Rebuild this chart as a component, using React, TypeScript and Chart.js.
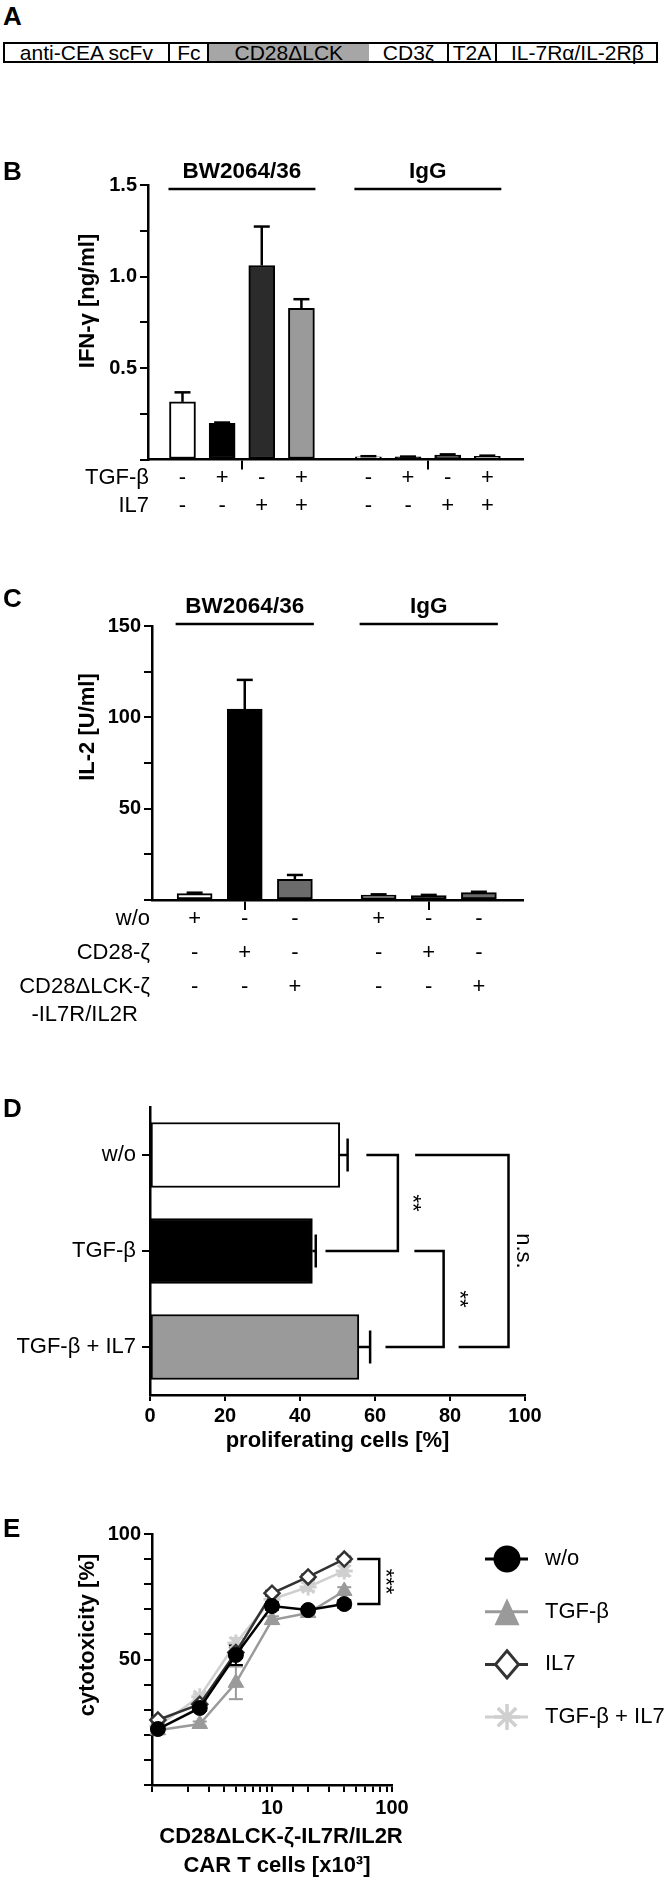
import React, { useEffect, useRef } from 'react';
import { Chart, registerables } from 'chart.js';

Chart.register(...registerables);

const FONT = '"Liberation Sans", Arial, Helvetica, sans-serif';
Chart.defaults.font.family = FONT;
Chart.defaults.color = '#000';

/* =================== DATA =================== */
// Panel A – CAR construct
const constructParts = ['anti-CEA scFv', 'Fc', 'CD28ΔLCK', 'CD3ζ', 'T2A', 'IL-7Rα/IL-2Rβ'];

// Panel B – IFN-γ [ng/ml]
const bGroups = ['BW2064/36', 'IgG'];
const bTGF = ['-', '+', '-', '+'];
const bIL7 = ['-', '-', '+', '+'];
const bBW = [0.315, 0.197, 1.06, 0.826];
const bBWErr = [0.052, 0.005, 0.213, 0.05];
const bIgG = [0.015, 0.014, 0.024, 0.018];
const bIgGErr = [0.003, 0.002, 0.004, 0.003];
const bYTicks = [0.5, 1.0, 1.5];

// Panel C – IL-2 [U/ml]
const cGroups = ['BW2064/36', 'IgG'];
const cRowNames = ['w/o', 'CD28-ζ', 'CD28ΔLCK-ζ\n-IL7R/IL2R'];
const cWo = ['+', '-', '-'];
const cCD28 = ['-', '+', '-'];
const cLCK = ['-', '-', '+'];
const cBW = [3.5, 104.5, 11.3];
const cBWErr = [0.5, 16, 2.4];
const cIgG = [2.7, 2.4, 4.0];
const cIgGErr = [0.4, 0.4, 0.5];
const cYTicks = [50, 100, 150];

// Panel D – proliferating cells [%]
const dLabels = ['w/o', 'TGF-β', 'TGF-β + IL7'];
const dProlif = [50.6, 43.3, 55.7];
const dProlifErr = [2.1, 0.9, 3.0];
const dXTicks = [0, 20, 40, 60, 80, 100];
const dPairs = [[0, 1], [1, 2], [0, 2]];
const dSigLabels = ['**', '**', 'n.s.'];

// Panel E – cytotoxicity [%]
const eCells = [1.12, 2.5, 5, 10, 20, 40];
const eNames = ['w/o', 'TGF-β', 'IL7', 'TGF-β + IL7'];
const eWo = [22.3, 30.7, 51.8, 71.3, 69.7, 72.1];
const eWoErr = [1.0, 1.2, 4.0, 1.5, 1.2, 1.5];
const eTGF = [21.8, 24.3, 40.7, 65.7, 68.5, 77.3];
const eTGFErr = [1.0, 1.0, 6.5, 1.5, 1.0, 1.5];
const eIL7 = [25.9, 32.2, 52.8, 76.4, 82.9, 90.0];
const eIL7Err = [1.0, 1.0, 2.0, 1.0, 1.0, 1.0];
const eTGFIL7 = [23.5, 35.2, 56.6, 74.0, 78.9, 85.3];
const eTGFIL7Err = [1.0, 1.0, 2.0, 1.5, 1.5, 2.0];
const eYTicks = [50, 100];
const eXTicks = [10, 100];
const eSigPair = [2, 0];
const eSigLabel = '***';

/* =================== LAYOUT / STYLE =================== */
const W = 664;
const AXIS_W = 2.5;
const TICK_FONT = { family: FONT, size: 20, weight: 'bold' as const };
const LABEL_SIZE = 22;
const TITLE_SIZE = 22;
const HEAD_SIZE = 22.5;
const YTITLE_X = 88;

type Area = { left: number; right: number; top: number; bottom: number };

function padFor(top: number, height: number, a: Area, xH: number) {
  return { left: 0, top: a.top - top, right: W - a.right, bottom: top + height - a.bottom - xH };
}

const common = {
  responsive: false,
  animation: false as const,
  events: [] as any[],
  plugins: { legend: { display: false }, tooltip: { enabled: false } },
};

function seg(ctx: CanvasRenderingContext2D, x1: number, y1: number, x2: number, y2: number, lw = AXIS_W, c = '#000') {
  ctx.save();
  ctx.strokeStyle = c;
  ctx.lineWidth = lw;
  ctx.lineCap = 'butt';
  ctx.beginPath();
  ctx.moveTo(x1, y1);
  ctx.lineTo(x2, y2);
  ctx.stroke();
  ctx.restore();
}

function poly(ctx: CanvasRenderingContext2D, pts: number[][], lw = AXIS_W, c = '#000') {
  ctx.save();
  ctx.strokeStyle = c;
  ctx.lineWidth = lw;
  ctx.lineJoin = 'miter';
  ctx.beginPath();
  pts.forEach(([x, y], i) => (i ? ctx.lineTo(x, y) : ctx.moveTo(x, y)));
  ctx.stroke();
  ctx.restore();
}

function txt(
  ctx: CanvasRenderingContext2D, s: string, x: number, y: number, size: number, bold = false,
  align: CanvasTextAlign = 'center', rot = 0, baseline: CanvasTextBaseline = 'middle',
) {
  ctx.save();
  ctx.translate(x, y);
  ctx.rotate(rot);
  ctx.font = `${bold ? 'bold ' : ''}${size}px ${FONT}`;
  ctx.fillStyle = '#000';
  ctx.textAlign = align;
  ctx.textBaseline = baseline;
  ctx.fillText(s, 0, 0);
  ctx.restore();
}

function errV(ctx: CanvasRenderingContext2D, cx: number, y0: number, y1: number, half: number, c = '#000', lw = AXIS_W) {
  seg(ctx, cx, y0, cx, y1, lw, c);
  seg(ctx, cx - half, y1, cx + half, y1, lw, c);
}

function yLinear(max: number, step: number, labeled: number[], width: number, fmt: (v: number) => string) {
  return {
    type: 'linear',
    min: 0,
    max,
    afterFit: (s: any) => { s.width = width; },
    ticks: {
      stepSize: step, autoSkip: false, padding: 3, color: '#000', font: TICK_FONT,
      callback: (v: any) => (labeled.some((t) => Math.abs(t - Number(v)) < 1e-6) ? fmt(Number(v)) : ''),
    },
    grid: { drawOnChartArea: false, color: '#000', lineWidth: 2, tickLength: 8 },
    border: { color: '#000', width: AXIS_W },
  };
}

function xGroups(min: number, max: number, centers: number[], height: number) {
  return {
    type: 'linear',
    min,
    max,
    offset: false,
    afterFit: (s: any) => { s.height = height; },
    afterBuildTicks: (s: any) => { s.ticks = centers.map((v) => ({ value: v })); },
    ticks: { autoSkip: false, callback: () => '' },
    grid: { drawOnChartArea: false, offset: false, color: '#000', lineWidth: 2, tickLength: 10 },
    border: { color: '#000', width: AXIS_W },
  };
}

function groupPositions(n: number, groups: number, gap: number) {
  const out: number[][] = [];
  for (let g = 0; g < groups; g++) out.push(Array.from({ length: n }, (_, i) => 1 + g * (n + gap) + i));
  return out;
}

/* ---------- Panel A ---------- */
const A_BOUNDS = [3.4, 169.4, 208.3, 369.3, 447.6, 496.3, 658.5];
const A_TOP = 41.5;
const A_H = 21;
const A_FILLS = ['#fff', '#fff', '#a6a6a6', '#fff', '#fff', '#fff'];
const A_DIVIDERS = [1, 2, 4, 5];

function PanelA() {
  return (
    <>
      <div style={{ position: 'absolute', left: 3, top: 1, font: `bold 26px ${FONT}`, lineHeight: '30px' }}>A</div>
      {constructParts.map((p, i) => (
        <div
          key={i}
          style={{
            position: 'absolute', left: A_BOUNDS[i], top: A_TOP, width: A_BOUNDS[i + 1] - A_BOUNDS[i], height: A_H,
            background: A_FILLS[i], display: 'flex', alignItems: 'center', justifyContent: 'center',
            fontSize: 21, lineHeight: '1', whiteSpace: 'nowrap',
          }}
        >
          {p}
        </div>
      ))}
      <div
        style={{
          position: 'absolute', left: A_BOUNDS[0], top: A_TOP, width: A_BOUNDS[6] - A_BOUNDS[0], height: A_H,
          border: '2px solid #000', boxSizing: 'border-box',
        }}
      />
      {A_DIVIDERS.map((k) => (
        <div key={k} style={{ position: 'absolute', left: A_BOUNDS[k] - 1, top: A_TOP, width: 2, height: A_H, background: '#000' }} />
      ))}
    </>
  );
}

/* ---------- Panel B ---------- */
const B_TOP = 130;
const B_H = 410;
const B_AREA = { left: 148, right: 523, top: 185, bottom: 459.5 };
const B_GAP = 0.69;
const B_XMIN = 0.13;
const B_XMAX = 9.59;
const B_BAR = 26;
const B_FILLS = ['#ffffff', '#000000', '#2b2b2b', '#9a9a9a'];

function makeB() {
  const pos = groupPositions(bBW.length, bGroups.length, B_GAP);
  const flat = pos.flat();
  const vals = [...bBW, ...bIgG];
  const errs = [...bBWErr, ...bIgGErr];
  const centers = pos.map((p) => (p[0] + p[p.length - 1]) / 2);
  const plugin = {
    id: 'bExtras',
    afterDatasetsDraw(chart: any) {
      const { ctx, chartArea: ca, scales: { x, y } } = chart;
      vals.forEach((v, i) => errV(ctx, x.getPixelForValue(flat[i]), y.getPixelForValue(v), y.getPixelForValue(v + errs[i]), 8));
      pos.forEach((p, g) => {
        const xa = x.getPixelForValue(p[0]) - B_BAR / 2 - 1;
        const xb = x.getPixelForValue(p[p.length - 1]) + B_BAR / 2 + 1;
        seg(ctx, xa, ca.top + 4, xb, ca.top + 4);
        txt(ctx, bGroups[g], (xa + xb) / 2, ca.top - 13, HEAD_SIZE, true);
      });
      const rows: [string, string[]][] = [['TGF-β', bTGF], ['IL7', bIL7]];
      rows.forEach(([name, signs], r) => {
        const yy = ca.bottom + 18.5 + r * 28;
        txt(ctx, name, ca.left + 1, yy, LABEL_SIZE, false, 'right');
        pos.forEach((p) => p.forEach((px, i) => txt(ctx, signs[i], x.getPixelForValue(px), yy, LABEL_SIZE)));
      });
      txt(ctx, 'B', 3, 180 - B_TOP, 26, true, 'left', 0, 'alphabetic');
      txt(ctx, 'IFN-γ [ng/ml]', YTITLE_X, 301 - B_TOP, TITLE_SIZE, true, 'center', -Math.PI / 2);
    },
  };
  return {
    type: 'bar',
    data: {
      datasets: [{
        data: flat.map((px, i) => ({ x: px, y: vals[i] })),
        backgroundColor: flat.map((_, i) => B_FILLS[i % B_FILLS.length]),
        borderColor: '#000', borderWidth: 2, borderSkipped: false, barThickness: B_BAR,
      }],
    },
    options: {
      ...common,
      layout: { padding: padFor(B_TOP, B_H, B_AREA, 14) },
      scales: {
        x: xGroups(B_XMIN, B_XMAX, centers, 14),
        y: yLinear(1.5, 0.25, bYTicks, B_AREA.left, (v) => v.toFixed(1)),
      },
    },
    plugins: [plugin],
  };
}

/* ---------- Panel C ---------- */
const C_TOP = 570;
const C_H = 460;
const C_AREA = { left: 152, right: 523, top: 626, bottom: 900 };
const C_GAP = 0.67;
const C_XMIN = 0.15;
const C_XMAX = 7.55;
const C_BAR = 35;
const C_FILLS = ['#ffffff', '#000000', '#6b6b6b'];
const C_ROW_Y = [19, 53, 87];

function makeC() {
  const pos = groupPositions(cBW.length, cGroups.length, C_GAP);
  const flat = pos.flat();
  const vals = [...cBW, ...cIgG];
  const errs = [...cBWErr, ...cIgGErr];
  const centers = pos.map((p) => (p[0] + p[p.length - 1]) / 2);
  const rowSigns = [cWo, cCD28, cLCK];
  const plugin = {
    id: 'cExtras',
    afterDatasetsDraw(chart: any) {
      const { ctx, chartArea: ca, scales: { x, y } } = chart;
      vals.forEach((v, i) => errV(ctx, x.getPixelForValue(flat[i]), y.getPixelForValue(v), y.getPixelForValue(v + errs[i]), 8));
      pos.forEach((p, g) => {
        const xa = x.getPixelForValue(p[0]) - C_BAR / 2 - 1.5;
        const xb = x.getPixelForValue(p[p.length - 1]) + C_BAR / 2 + 1.5;
        seg(ctx, xa, ca.top - 2, xb, ca.top - 2);
        txt(ctx, cGroups[g], (xa + xb) / 2, ca.top - 19, HEAD_SIZE, true);
      });
      rowSigns.forEach((signs, r) => {
        const yy = ca.bottom + C_ROW_Y[r];
        const lines = cRowNames[r].split('\n');
        const right = ca.left - 2;
        txt(ctx, lines[0], right, yy, LABEL_SIZE, false, 'right');
        if (lines.length > 1) {
          ctx.save();
          ctx.font = `${LABEL_SIZE}px ${FONT}`;
          const w0 = ctx.measureText(lines[0]).width;
          ctx.restore();
          txt(ctx, lines[1], right - w0 / 2, yy + 28, LABEL_SIZE, false, 'center');
        }
        pos.forEach((p) => p.forEach((px, i) => txt(ctx, signs[i], x.getPixelForValue(px), yy, LABEL_SIZE)));
      });
      txt(ctx, 'C', 3, 607 - C_TOP, 26, true, 'left', 0, 'alphabetic');
      txt(ctx, 'IL-2 [U/ml]', YTITLE_X, 727 - C_TOP, TITLE_SIZE, true, 'center', -Math.PI / 2);
    },
  };
  return {
    type: 'bar',
    data: {
      datasets: [{
        data: flat.map((px, i) => ({ x: px, y: vals[i] })),
        backgroundColor: flat.map((_, i) => C_FILLS[i % C_FILLS.length]),
        borderColor: '#000', borderWidth: 2, borderSkipped: false, barThickness: C_BAR,
      }],
    },
    options: {
      ...common,
      layout: { padding: padFor(C_TOP, C_H, C_AREA, 14) },
      scales: {
        x: xGroups(C_XMIN, C_XMAX, centers, 14),
        y: yLinear(150, 25, cYTicks, C_AREA.left, (v) => String(v)),
      },
    },
    plugins: [plugin],
  };
}

/* ---------- Panel D ---------- */
const D_TOP = 1080;
const D_H = 380;
const D_AREA = { left: 150, right: 525, top: 1107, bottom: 1395 };
const D_BAR = 65;
const D_FILLS = ['#ffffff', '#000000', '#9a9a9a'];
// bracket geometry in x-axis units: start of upper arm, spine, start of lower arm, label position
const D_BRACKETS = [
  { start: 57.7, spine: 66.1, end: 46.8, label: 69.8 },
  { start: 70.5, spine: 78.3, end: 62.8, label: 82.3 },
  { start: 70.7, spine: 95.6, end: 82.3, label: 99.6 },
];

function makeD() {
  const plugin = {
    id: 'dExtras',
    afterDatasetsDraw(chart: any) {
      const { ctx, chartArea: ca, scales: { x, y } } = chart;
      dProlif.forEach((v, i) => {
        const cy = y.getPixelForValue(i);
        const x0 = x.getPixelForValue(v);
        const x1 = x.getPixelForValue(v + dProlifErr[i]);
        seg(ctx, x0, cy, x1, cy);
        seg(ctx, x1, cy - 16.5, x1, cy + 16.5);
      });
      dPairs.forEach(([i, j], k) => {
        const b = D_BRACKETS[k];
        const ya = y.getPixelForValue(i);
        const yb = y.getPixelForValue(j);
        const xs = x.getPixelForValue(b.spine);
        poly(ctx, [[x.getPixelForValue(b.start), ya], [xs, ya], [xs, yb], [x.getPixelForValue(b.end), yb]]);
        txt(ctx, dSigLabels[k], x.getPixelForValue(b.label), (ya + yb) / 2, LABEL_SIZE, false, 'center', Math.PI / 2);
      });
      txt(ctx, 'proliferating cells [%]', (ca.left + ca.right) / 2, 1441 - D_TOP, TITLE_SIZE, true);
      txt(ctx, 'D', 3, 1117 - D_TOP, 26, true, 'left', 0, 'alphabetic');
    },
  };
  return {
    type: 'bar',
    data: {
      labels: dLabels,
      datasets: [{
        data: dProlif, backgroundColor: D_FILLS, borderColor: '#000', borderWidth: 2,
        borderSkipped: false, barThickness: D_BAR,
      }],
    },
    options: {
      ...common,
      indexAxis: 'y',
      layout: { padding: padFor(D_TOP, D_H, D_AREA, 65) },
      scales: {
        x: {
          type: 'linear', min: 0, max: 100,
          afterFit: (s: any) => { s.height = 65; },
          ticks: {
            stepSize: 20, autoSkip: false, maxRotation: 0, padding: 3, font: TICK_FONT, color: '#000',
            callback: (v: any) => (dXTicks.includes(Number(v)) ? String(v) : ''),
          },
          grid: { drawOnChartArea: false, color: '#000', lineWidth: 2, tickLength: 6 },
          border: { color: '#000', width: AXIS_W },
        },
        y: {
          type: 'category',
          afterFit: (s: any) => { s.width = D_AREA.left; },
          ticks: { padding: 6, font: { family: FONT, size: LABEL_SIZE }, color: '#000' },
          grid: { drawOnChartArea: false, offset: false, color: '#000', lineWidth: 2, tickLength: 8 },
          border: { color: '#000', width: AXIS_W },
        },
      },
    },
    plugins: [plugin],
  };
}

/* ---------- Panel E ---------- */
const E_TOP = 1490;
const E_H = 389;
const E_AREA = { left: 152, right: 392, top: 1534, bottom: 1785 };
const E_STYLES = [
  { color: '#000000', fill: '#000000', point: 'circle', r: 7.5, bw: 1, order: 0, legend: 'circle', lr: 13.5 },
  { color: '#9a9a9a', fill: '#9a9a9a', point: 'triangle', r: 9, bw: 1, order: 2, legend: 'triangle', lr: 12.5 },
  { color: '#333333', fill: '#ffffff', point: 'rectRot', r: 7.5, bw: 2.5, order: 1, legend: 'diamond', lr: 11.5 },
  { color: '#cfcfcf', fill: '#cfcfcf', point: 'star', r: 8.5, bw: 3, order: 3, legend: 'star', lr: 13 },
];
const E_LEGEND = { lineX0: 485, lineX1: 528, markX: 507, textX: 545, y0: 1559, dy: 52.7 };

function legendMarker(ctx: CanvasRenderingContext2D, kind: string, x: number, y: number, r: number, color: string, fill: string) {
  ctx.save();
  ctx.fillStyle = fill;
  ctx.strokeStyle = color;
  ctx.beginPath();
  if (kind === 'circle') {
    ctx.arc(x, y, r, 0, Math.PI * 2);
    ctx.fill();
  } else if (kind === 'triangle') {
    ctx.moveTo(x, y - r * 1.08);
    ctx.lineTo(x + r, y + r * 1.08);
    ctx.lineTo(x - r, y + r * 1.08);
    ctx.closePath();
    ctx.fill();
  } else if (kind === 'diamond') {
    ctx.lineWidth = 3;
    ctx.moveTo(x, y - r * 1.18);
    ctx.lineTo(x + r, y);
    ctx.lineTo(x, y + r * 1.18);
    ctx.lineTo(x - r, y);
    ctx.closePath();
    ctx.fill();
    ctx.stroke();
  } else {
    ctx.lineWidth = 3.5;
    for (let k = 0; k < 4; k++) {
      const a = (k * Math.PI) / 4 + Math.PI / 2;
      ctx.moveTo(x + Math.cos(a) * r, y + Math.sin(a) * r);
      ctx.lineTo(x - Math.cos(a) * r, y - Math.sin(a) * r);
    }
    ctx.stroke();
  }
  ctx.restore();
}

function makeE() {
  const series = [eWo, eTGF, eIL7, eTGFIL7];
  const errs = [eWoErr, eTGFErr, eIL7Err, eTGFIL7Err];
  const plugin = {
    id: 'eExtras',
    beforeDatasetsDraw(chart: any) {
      const { ctx, scales: { x, y } } = chart;
      [3, 2, 1, 0].forEach((k) => {
        series[k].forEach((v, i) => {
          const cx = x.getPixelForValue(eCells[i]);
          const yl = y.getPixelForValue(v - errs[k][i]);
          const yh = y.getPixelForValue(v + errs[k][i]);
          seg(ctx, cx, yl, cx, yh, 2, E_STYLES[k].color);
          seg(ctx, cx - 7, yl, cx + 7, yl, 2, E_STYLES[k].color);
          seg(ctx, cx - 7, yh, cx + 7, yh, 2, E_STYLES[k].color);
        });
      });
    },
    afterDraw(chart: any) {
      const { ctx, scales: { x, y } } = chart;
      eNames.forEach((name, k) => {
        const st = E_STYLES[k];
        const ly = E_LEGEND.y0 - E_TOP + k * E_LEGEND.dy;
        seg(ctx, E_LEGEND.lineX0, ly, E_LEGEND.lineX1, ly, 3, st.color);
        legendMarker(ctx, st.legend, E_LEGEND.markX, ly, st.lr, st.color, st.fill);
        txt(ctx, name, E_LEGEND.textX, ly, LABEL_SIZE, false, 'left');
      });
      const last = eCells.length - 1;
      const xp = x.getPixelForValue(eCells[last]);
      const ya = y.getPixelForValue(series[eSigPair[0]][last]);
      const yb = y.getPixelForValue(series[eSigPair[1]][last]);
      poly(ctx, [[xp + 13, ya], [xp + 35, ya], [xp + 35, yb], [xp + 13, yb]], 2.5);
      txt(ctx, eSigLabel, xp + 41, (ya + yb) / 2, 22, false, 'center', Math.PI / 2);
      txt(ctx, 'CD28ΔLCK-ζ-IL7R/IL2R', 281, 1837 - E_TOP, TITLE_SIZE, true);
      txt(ctx, 'CAR T cells [x10³]', 277, 1866 - E_TOP, TITLE_SIZE, true);
      txt(ctx, 'cytotoxicity [%]', YTITLE_X, 1635 - E_TOP, TITLE_SIZE, true, 'center', -Math.PI / 2);
      txt(ctx, 'E', 3, 1537 - E_TOP, 26, true, 'left', 0, 'alphabetic');
    },
  };
  return {
    type: 'line',
    data: {
      datasets: series.map((vals, k) => ({
        label: eNames[k],
        data: eCells.map((cx, i) => ({ x: cx, y: vals[i] })),
        borderColor: E_STYLES[k].color,
        backgroundColor: E_STYLES[k].fill,
        borderWidth: 2.5,
        pointStyle: E_STYLES[k].point,
        pointRadius: E_STYLES[k].r,
        pointBackgroundColor: E_STYLES[k].fill,
        pointBorderColor: E_STYLES[k].color,
        pointBorderWidth: E_STYLES[k].bw,
        order: E_STYLES[k].order,
        tension: 0,
        clip: false,
      })),
    },
    options: {
      ...common,
      layout: { padding: padFor(E_TOP, E_H, E_AREA, 94) },
      scales: {
        x: {
          type: 'logarithmic', min: 1, max: 100,
          afterFit: (s: any) => { s.height = 94; },
          ticks: {
            autoSkip: false, maxRotation: 0, padding: 4, font: TICK_FONT, color: '#000',
            callback: (v: any) => (eXTicks.includes(Number(v)) ? String(v) : ''),
          },
          grid: { drawOnChartArea: false, color: '#000', lineWidth: 2, tickLength: 7 },
          border: { color: '#000', width: AXIS_W },
        },
        y: yLinear(100, 10, eYTicks, E_AREA.left, (v) => String(v)),
      },
    },
    plugins: [plugin],
  };
}

/* =================== COMPONENTS =================== */
function ChartCanvas({ top, height, make }: { top: number; height: number; make: () => any }) {
  const ref = useRef<HTMLCanvasElement>(null);
  useEffect(() => {
    const chart = new Chart(ref.current as HTMLCanvasElement, make());
    return () => chart.destroy();
  }, []);
  return (
    <canvas
      ref={ref}
      width={W}
      height={height}
      style={{ position: 'absolute', left: 0, top, width: W, height, display: 'block' }}
    />
  );
}

export default function App() {
  return (
    <div
      style={{
        position: 'absolute', left: 0, top: 0, width: W, height: 1879, background: '#fff',
        fontFamily: FONT, color: '#000', overflow: 'hidden',
      }}
    >
      <PanelA />
      <ChartCanvas top={B_TOP} height={B_H} make={makeB} />
      <ChartCanvas top={C_TOP} height={C_H} make={makeC} />
      <ChartCanvas top={D_TOP} height={D_H} make={makeD} />
      <ChartCanvas top={E_TOP} height={E_H} make={makeE} />
    </div>
  );
}
